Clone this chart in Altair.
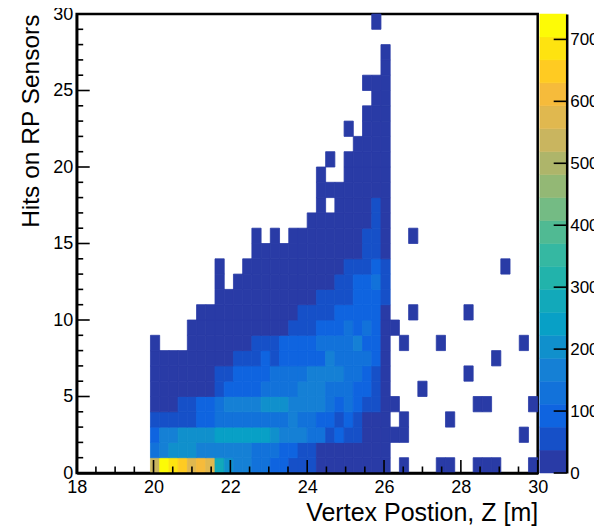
import altair as alt
import pandas as pd

X_MIN, X_MAX, N_X = 18.0, 30.0, 50
Y_MIN, Y_MAX = 0, 30
Z_MAX = 741

first_bin = 8
row_00 = [537,722,685,648,574,611,574,278,204,167,167,130,130,93,93,56,56,56,18,18,18,18,18,18,18,18]
row_01 = [130,167,204,204,204,167,167,167,167,167,167,130,130,130,93,93,56,56,18,18,18,18,18,18,18,18]
row_02 = [93,167,167,204,204,204,204,241,241,241,241,241,241,204,167,167,167,130,130,56,93,56,56,18,18,18]
row_03 = [56,56,56,56,56,93,93,130,130,130,130,130,130,130,130,167,130,130,93,93,56,93,56,18,18,18]
row_04 = [18,18,18,56,56,93,93,130,167,167,167,167,204,204,204,167,167,167,167,130,93,130,93,56,56,18]
row_05 = [18,18,18,18,18,18,18,56,93,93,93,93,130,130,130,130,167,167,167,130,130,130,93,93,56,18]
row_06 = [18,18,18,18,18,18,18,56,56,93,93,93,93,130,130,130,130,167,167,167,167,130,130,93,56,18]
row_07 = [18,18,18,18,18,18,18,18,18,56,56,56,93,56,93,93,93,93,93,167,130,130,130,130,93,18]
row_08 = [18,0,0,0,18,18,18,18,18,18,18,56,56,56,93,93,93,93,130,130,130,130,167,93,93,18]
row_09 = [0,0,0,0,18,18,18,18,18,18,18,18,18,18,18,56,56,56,93,93,93,130,93,130,93,18]
row_10 = [0,0,0,0,0,18,18,18,18,18,18,18,18,18,18,18,56,56,56,56,93,93,93,93,93,18]
row_11 = [0,0,0,0,0,0,0,18,18,18,18,18,18,18,18,18,18,18,56,56,56,56,93,93,93,56]
row_12 = [0,0,0,0,0,0,0,18,0,18,18,18,18,18,18,18,18,18,18,18,56,56,93,93,130,56]
row_13 = [0,0,0,0,0,0,0,18,0,0,18,18,18,18,18,18,18,18,18,18,18,56,56,56,93,56]
row_14 = [0,0,0,0,0,0,0,0,0,0,0,18,18,18,18,18,18,18,18,18,18,18,18,56,56,18]
row_15 = [0,0,0,0,0,0,0,0,0,0,0,18,0,18,0,18,18,18,18,18,18,18,18,56,56,18]
row_16 = [0,0,0,0,0,0,0,0,0,0,0,0,0,0,0,0,0,18,18,18,18,18,18,18,56,18]
row_17 = [0,0,0,0,0,0,0,0,0,0,0,0,0,0,0,0,0,0,18,0,18,18,18,18,56,18]
row_18 = [0,0,0,0,0,0,0,0,0,0,0,0,0,0,0,0,0,0,18,18,18,18,18,18,18,18]
row_19 = [0,0,0,0,0,0,0,0,0,0,0,0,0,0,0,0,0,0,18,0,0,18,18,18,18,18]
row_20 = [0,0,0,0,0,0,0,0,0,0,0,0,0,0,0,0,0,0,0,18,0,18,18,18,18,18]
row_21 = [0,0,0,0,0,0,0,0,0,0,0,0,0,0,0,0,0,0,0,0,0,0,18,18,18,18]
row_22 = [0,0,0,0,0,0,0,0,0,0,0,0,0,0,0,0,0,0,0,0,0,18,0,18,18,18]
row_23 = [0,0,0,0,0,0,0,0,0,0,0,0,0,0,0,0,0,0,0,0,0,0,0,18,18,18]
row_24 = [0,0,0,0,0,0,0,0,0,0,0,0,0,0,0,0,0,0,0,0,0,0,0,0,18,18]
row_25 = [0,0,0,0,0,0,0,0,0,0,0,0,0,0,0,0,0,0,0,0,0,0,0,18,18,18]
row_26 = [0,0,0,0,0,0,0,0,0,0,0,0,0,0,0,0,0,0,0,0,0,0,0,0,0,18]
row_27 = [0,0,0,0,0,0,0,0,0,0,0,0,0,0,0,0,0,0,0,0,0,0,0,0,0,18]
row_28 = [0,0,0,0,0,0,0,0,0,0,0,0,0,0,0,0,0,0,0,0,0,0,0,0,0,0]
row_29 = [0,0,0,0,0,0,0,0,0,0,0,0,0,0,0,0,0,0,0,0,0,0,0,0,18,0]
dense_rows = [row_00,row_01,row_02,row_03,row_04,row_05,row_06,row_07,row_08,row_09,
              row_10,row_11,row_12,row_13,row_14,row_15,row_16,row_17,row_18,row_19,
              row_20,row_21,row_22,row_23,row_24,row_25,row_26,row_27,row_28,row_29]

sparse_x_bin = [36,46,36,42,34,35,39,48,45,42,37,34,43,44,49,35,40,34,35,48,35,39,40,43,44,45,49]
sparse_y_bin = [15,13,10,10,9,8,8,8,7,6,5,4,4,4,4,3,3,2,2,2,0,0,0,0,0,0,0]
sparse_count = [1,1,1,1,1,1,1,1,1,1,1,1,1,1,1,1,1,1,1,1,1,1,1,1,1,1,1]

palette = ["#293ba6","#1650c8","#0f64e0","#1272da","#1580d5","#1090cc","#08a0c6","#12a9ba","#22b3ab","#35b8a2",
           "#50ba93","#74bb84","#93b875","#aeb56a","#c9b55f","#e0b84f","#f6bb3b","#ffcb22","#fee310","#fdfb06"]

x_major = [18,20,22,24,26,28,30]
x_minor = [18.5,19,19.5,20.5,21,21.5,22.5,23,23.5,24.5,25,25.5,26.5,27,27.5,28.5,29,29.5]
y_major = [0,5,10,15,20,25,30]
y_minor = [1,2,3,4,6,7,8,9,11,12,13,14,16,17,18,19,21,22,23,24,26,27,28,29]
z_ticks = [0,100,200,300,400,500,600,700]

bw = (X_MAX - X_MIN) / N_X
recs = []
for r, row in enumerate(dense_rows):
    for i, c in enumerate(row):
        if c > 0:
            recs.append(dict(k=first_bin + i, r=r, c=c))
for k, r, c in zip(sparse_x_bin, sparse_y_bin, sparse_count):
    recs.append(dict(k=k, r=r, c=c))
df = pd.DataFrame(recs)
df["x0"] = X_MIN + df.k * bw
df["x1"] = X_MIN + (df.k + 1) * bw
df["y0"] = df.r
df["y1"] = df.r + 1

FONT = "Liberation Sans"
W, H = 461, 459
BAR_W = 27
TW = 1.6

x_axis = alt.Axis(values=x_major, tickSize=0, grid=False, domainColor="black", domainWidth=2.5,
                  labelFont=FONT, labelFontSize=18, labelColor="black", labelPadding=5, labelOverlap=False,
                  labelFlush=False, format="d",
                  title="Vertex Postion, Z [m]", titleFont=FONT, titleFontSize=25, titleFontWeight="normal",
                  titleColor="black", titleAnchor="end", titlePadding=4, zindex=1)
y_axis = alt.Axis(values=y_major, tickSize=0, grid=False, domainColor="black", domainWidth=2.5,
                  labelFont=FONT, labelFontSize=18, labelColor="black", labelPadding=4, labelOverlap=False,
                  labelFlush=False, format="d",
                  title="Hits on RP Sensors", titleFont=FONT, titleFontSize=24.5, titleFontWeight="normal",
                  titleColor="black", titleAnchor="end", titlePadding=9, zindex=1)
z_axis = alt.Axis(orient="right", values=z_ticks, tickSize=0, grid=False, title=None,
                  domainColor="black", domainWidth=2.5, labelFont=FONT, labelFontSize=17,
                  labelColor="black", labelPadding=3, labelOverlap=False, labelFlush=False,
                  format="d", zindex=1)

xs = alt.Scale(domain=[X_MIN, X_MAX], nice=False, zero=False)
ys = alt.Scale(domain=[Y_MIN, Y_MAX], nice=False, zero=False)
cs = alt.Scale(type="quantize", domain=[0, Z_MAX], range=palette)

cells = alt.Chart(df).mark_rect(strokeWidth=0.8).encode(
    x=alt.X("x0:Q", scale=xs, axis=x_axis),
    x2="x1:Q",
    y=alt.Y("y0:Q", scale=ys, axis=y_axis),
    y2="y1:Q",
    color=alt.Color("c:Q", scale=cs, legend=None),
    stroke=alt.Stroke("c:Q", scale=cs, legend=None),
)

def xticks(vals, length):
    return alt.Chart(pd.DataFrame({"v": vals})).mark_rule(color="black", strokeWidth=TW).encode(
        x=alt.X("v:Q", scale=xs, axis=x_axis), y=alt.value(H), y2=alt.value(H - length))

def yticks(vals, length):
    return alt.Chart(pd.DataFrame({"v": vals})).mark_rule(color="black", strokeWidth=TW).encode(
        y=alt.Y("v:Q", scale=ys, axis=y_axis), x=alt.value(0), x2=alt.value(length))

main = alt.layer(cells, xticks(x_major, 13), xticks(x_minor, 6.5), yticks(y_major, 13), yticks(y_minor, 6.5)).properties(
    width=W, height=H, view=alt.ViewConfig(stroke="black", strokeWidth=2.5))

step = Z_MAX / len(palette)
bar_df = pd.DataFrame({"lo": [i * step for i in range(len(palette))],
                       "hi": [(i + 1) * step for i in range(len(palette))],
                       "col": palette})
zs = alt.Scale(domain=[0, Z_MAX], nice=False, zero=False)
bar_rect = alt.Chart(bar_df).mark_rect(strokeWidth=0.5).encode(
    y=alt.Y("lo:Q", scale=zs, axis=z_axis),
    y2="hi:Q",
    x=alt.value(0), x2=alt.value(BAR_W),
    color=alt.Color("col:N", scale=None),
    stroke=alt.Stroke("col:N", scale=None),
)
bar_ticks = alt.Chart(pd.DataFrame({"v": z_ticks})).mark_rule(color="black", strokeWidth=TW).encode(
    y=alt.Y("v:Q", scale=zs, axis=z_axis), x=alt.value(BAR_W), x2=alt.value(BAR_W - 13))
bar = alt.layer(bar_rect, bar_ticks).properties(width=BAR_W, height=H, view=alt.ViewConfig(stroke=None))

chart = alt.hconcat(main, bar, spacing=2, bounds="flush").properties(
    autosize=alt.AutoSizeParams(type="none"),
    padding={"left": 68.7, "top": 6, "right": 517.3, "bottom": 505}
).configure_view(stroke=None)

chart.save("out.html", embed_options={"renderer": "svg", "actions": False})
